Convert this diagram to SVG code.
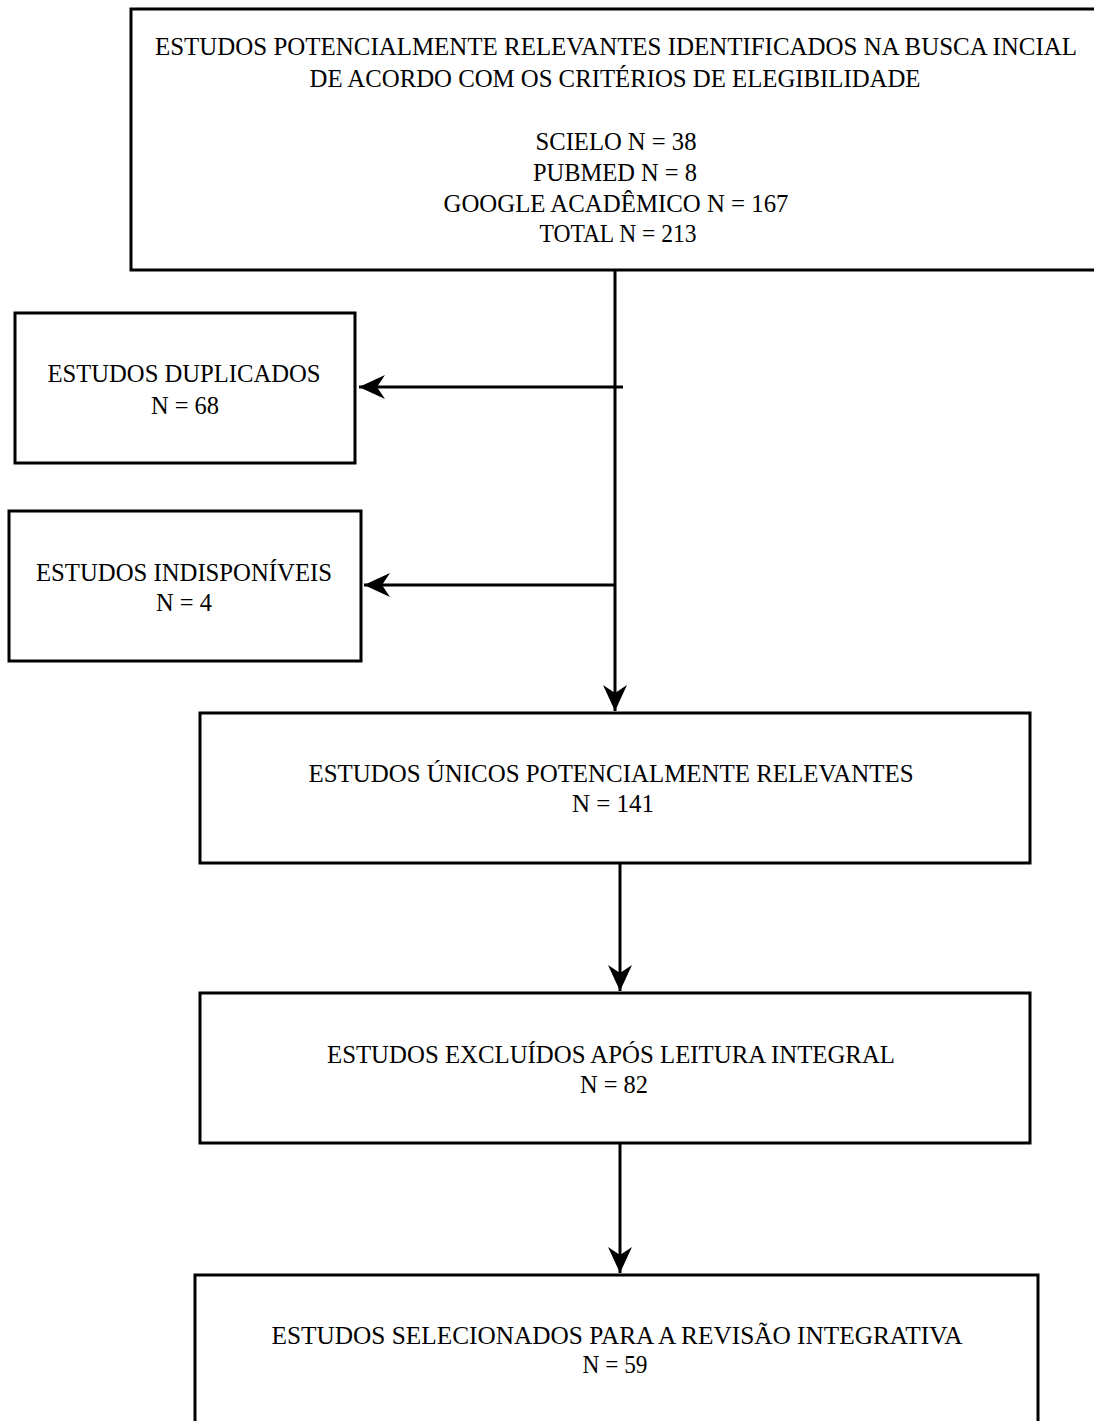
<svg xmlns="http://www.w3.org/2000/svg" width="1094" height="1421" viewBox="0 0 1094 1421">
<style>
.box{fill:#fff;stroke:#000;stroke-width:3}
.t{font-family:"Liberation Serif","Times New Roman",serif;font-size:25px;fill:#000;text-anchor:middle}
.ln{stroke:#000;stroke-width:3;fill:none}
</style>
<defs>
<marker id="ah" markerUnits="userSpaceOnUse" viewBox="-28 -14 30 28" refX="0" refY="0" markerWidth="30" markerHeight="28" orient="auto">
<path d="M0,0 L-26,-12 L-18,0 L-26,12 Z" fill="#000"/>
</marker>
</defs>
<rect width="1094" height="1421" fill="#fff"/>
<g id="connectors">
<line class="ln" x1="615" y1="270" x2="615" y2="711" marker-end="url(#ah)"/>
<line class="ln" x1="623" y1="387" x2="359" y2="387" marker-end="url(#ah)"/>
<line class="ln" x1="615" y1="585" x2="364" y2="585" marker-end="url(#ah)"/>
<line class="ln" x1="620" y1="863" x2="620" y2="991" marker-end="url(#ah)"/>
<line class="ln" x1="620" y1="1143" x2="620" y2="1273" marker-end="url(#ah)"/>
</g>
<g id="n-busca">
<rect class="box" x="131" y="9" width="1000" height="261"/>
<text class="t" x="616" y="55" textLength="922" lengthAdjust="spacingAndGlyphs">ESTUDOS POTENCIALMENTE RELEVANTES IDENTIFICADOS NA BUSCA INCIAL</text>
<text class="t" x="615" y="87" textLength="611" lengthAdjust="spacingAndGlyphs">DE ACORDO COM OS CRITÉRIOS DE ELEGIBILIDADE</text>
<text class="t" x="616" y="150" textLength="161" lengthAdjust="spacingAndGlyphs">SCIELO N = 38</text>
<text class="t" x="615" y="181" textLength="164" lengthAdjust="spacingAndGlyphs">PUBMED N = 8</text>
<text class="t" x="616" y="212" textLength="345" lengthAdjust="spacingAndGlyphs">GOOGLE ACADÊMICO N = 167</text>
<text class="t" x="618" y="242" textLength="157" lengthAdjust="spacingAndGlyphs">TOTAL N = 213</text>
</g>
<g id="n-duplicados">
<rect class="box" x="15" y="313" width="340" height="150"/>
<text class="t" x="184" y="382" textLength="273" lengthAdjust="spacingAndGlyphs">ESTUDOS DUPLICADOS</text>
<text class="t" x="185" y="414" textLength="68" lengthAdjust="spacingAndGlyphs">N = 68</text>
</g>
<g id="n-indisponiveis">
<rect class="box" x="9" y="511" width="352" height="150"/>
<text class="t" x="184" y="581" textLength="296" lengthAdjust="spacingAndGlyphs">ESTUDOS INDISPONÍVEIS</text>
<text class="t" x="184" y="611" textLength="56" lengthAdjust="spacingAndGlyphs">N = 4</text>
</g>
<g id="n-unicos">
<rect class="box" x="200" y="713" width="830" height="150"/>
<text class="t" x="611" y="782" textLength="605" lengthAdjust="spacingAndGlyphs">ESTUDOS ÚNICOS POTENCIALMENTE RELEVANTES</text>
<text class="t" x="613" y="812" textLength="82" lengthAdjust="spacingAndGlyphs">N = 141</text>
</g>
<g id="n-excluidos">
<rect class="box" x="200" y="993" width="830" height="150"/>
<text class="t" x="611" y="1063" textLength="568" lengthAdjust="spacingAndGlyphs">ESTUDOS EXCLUÍDOS APÓS LEITURA INTEGRAL</text>
<text class="t" x="614" y="1093" textLength="68" lengthAdjust="spacingAndGlyphs">N = 82</text>
</g>
<g id="n-selecionados">
<rect class="box" x="195" y="1275" width="843" height="200"/>
<text class="t" x="617" y="1344" textLength="691" lengthAdjust="spacingAndGlyphs">ESTUDOS SELECIONADOS PARA A REVISÃO INTEGRATIVA</text>
<text class="t" x="615" y="1373" textLength="65" lengthAdjust="spacingAndGlyphs">N = 59</text>
</g>
</svg>
